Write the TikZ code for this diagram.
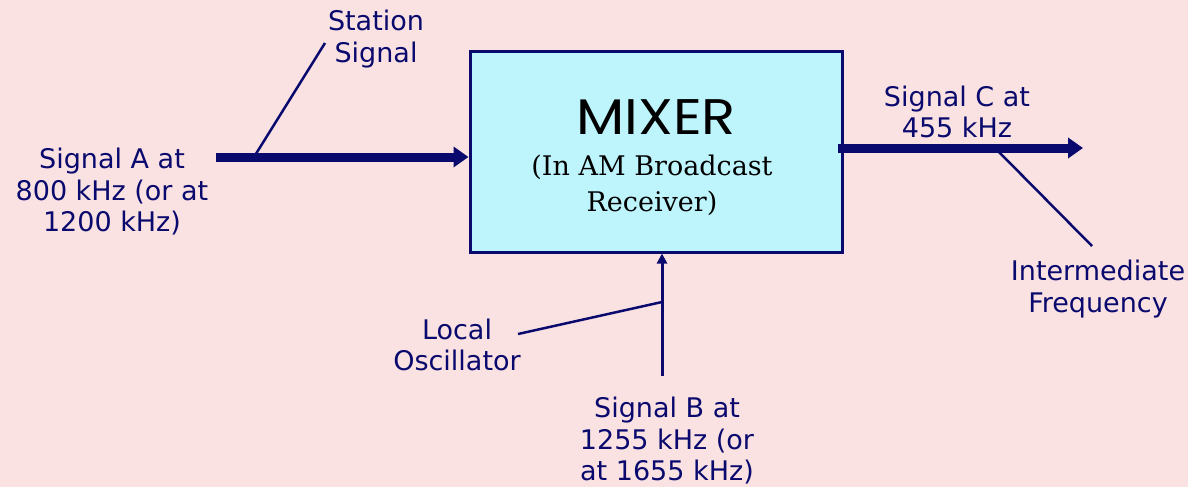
\documentclass[tikz,border=0pt]{standalone}
\usepackage{fontspec}
\setmainfont{DejaVu Sans}
\newfontfamily\titlefont{Poppins}
\newfontfamily\subfont{DejaVu Serif}
\usetikzlibrary{arrows.meta}
\definecolor{navy}{RGB}{10,10,110}
\definecolor{bg}{RGB}{250,226,226}
\definecolor{boxfill}{RGB}{190,245,252}
\tikzset{
  lbl/.style={text=navy,align=center,inner sep=0pt,font=\fontsize{27}{31.5}\selectfont},
  thickarrow/.style={draw=navy,line width=9pt,-{Triangle[length=15pt,width=20pt]}},
  thinarrow/.style={draw=navy,line width=3pt,-{Triangle[length=10pt,width=10pt]}},
  leader/.style={draw=navy,line width=2.5pt},
}
\begin{document}
\begin{tikzpicture}[x=1pt,y=-1pt]
\fill[bg] (0,0) rectangle (1188,487);
\useasboundingbox (0,0) rectangle (1188,487);
\node[draw=navy,line width=3pt,fill=boxfill,minimum width=372pt,minimum height=200pt,inner sep=0pt] (mixer) at (656,152) {};
\node[inner sep=0pt,xscale=1.12,font=\titlefont\fontsize{50}{50}\selectfont] (title) at (656,117) {MIXER};
\node[inner sep=0pt,align=center,font=\subfont\fontsize{27}{36}\selectfont] (sub) at (652,185) {(In AM Broadcast\\Receiver)};
% input A
\coordinate (a0) at (216,157);
\draw[thickarrow] (a0) -- (a0 -| mixer.west);
\node[lbl] (siga) at (112,192) {Signal A at\\800 kHz (or at\\1200 kHz)};
\coordinate (sa) at (254,157);
\coordinate (sb) at (325,43);
\draw[leader] (sa) -- (sb);
\node[lbl] (station) at (376,39) {Station\\Signal};
% output C
\coordinate (c0) at (838,148);
\coordinate (c1) at (1083,148);
\draw[thickarrow] (c0) -- (c1);
\node[lbl] (sigc) at (957,112) {Signal C at\\455 kHz};
\coordinate (ca) at (997,150);
\coordinate (cb) at (1092,246);
\draw[leader] (ca) -- (cb);
\node[lbl] (ifreq) at (1098,289) {Intermediate\\Frequency};
% input B
\coordinate (b0) at (662,376);
\draw[thinarrow] (b0) -- (b0 |- mixer.south);
\coordinate (ba) at (662,302);
\coordinate (bb) at (518,334);
\draw[leader] (ba) -- (bb);
\node[lbl] (local) at (457,345) {Local\\Oscillator};
\node[lbl] (sigb) at (667,441) {Signal B at\\1255 kHz (or\\at 1655 kHz)};
\end{tikzpicture}
\end{document}
